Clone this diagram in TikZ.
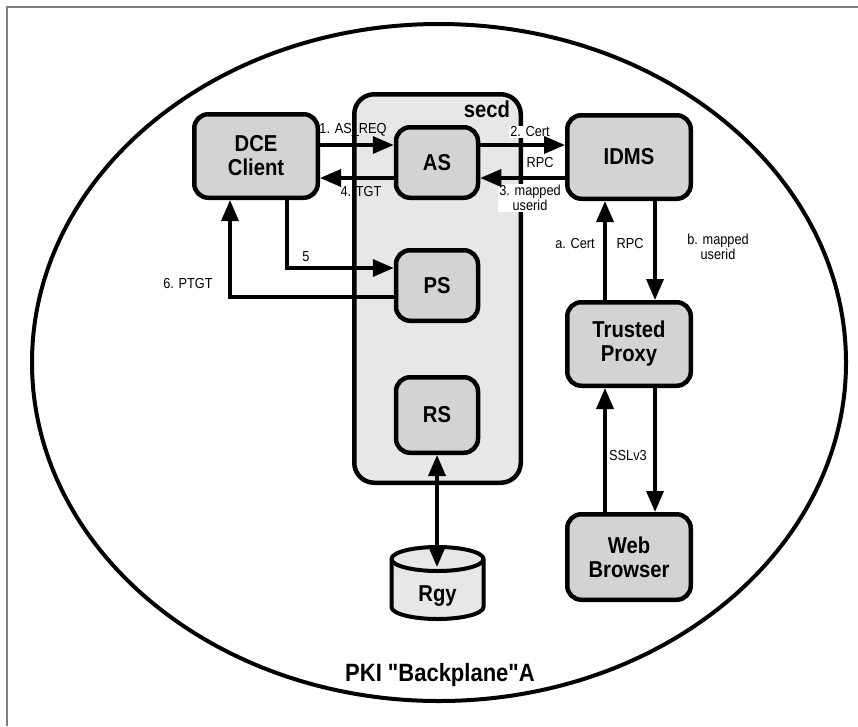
\documentclass[tikz,border=0pt]{standalone}
\usepackage{fontspec}
\setmainfont{Liberation Sans}[Ligatures=TeXOff]
\newfontfamily\condfont{Liberation Sans}[Ligatures=TeXOff, FakeStretch=0.88]
\usetikzlibrary{arrows.meta}
\definecolor{boxgray}{HTML}{D1D3D4}
\definecolor{secdgray}{HTML}{E6E7E8}
\begin{document}
\begin{tikzpicture}[x=1pt,y=-1pt,
  box/.style={draw, line width=4.5pt, fill=boxgray, rounded corners=14pt, align=center,
    font=\condfont\fontsize{23}{24}\selectfont\bfseries, inner sep=0pt, minimum width=123.5pt},
  lbl/.style={font=\condfont\fontsize{14.5}{15}\selectfont, inner sep=1pt, align=center},
  wlbl/.style={lbl, fill=white},
  arr/.style={line width=3.5pt, -{Triangle[length=21pt,width=17pt]}},
  darr/.style={line width=3.5pt, {Triangle[length=21pt,width=17pt]}-{Triangle[length=21pt,width=17pt]}},
  big/.style={font=\condfont\fontsize{23}{24}\selectfont\bfseries, inner sep=0pt}
]
\useasboundingbox (0,0) rectangle (858,726);
% frame
\draw[gray, line width=1.5pt] (7,726) -- (7,7) -- (858,7);
% outer ellipse
\draw[line width=4pt] (439,362.5) ellipse [x radius=407pt, y radius=338.5pt];
\node[font=\condfont\fontsize{25}{26}\selectfont\bfseries, inner sep=0pt] (pki) at (440,675) {PKI "Backplane"A};
% secd
\node[draw, line width=4.5pt, fill=secdgray, rounded corners=20pt, minimum width=166.5pt, minimum height=388.5pt] (secd) at (437.5,288.5) {};
\node[big] (secdlbl) at (487,109) {secd};
% labels with white background
\node[wlbl] (l2) at (530,132) {2. Cert};
\node[wlbl] (l3) at (530,198) {3. mapped\\userid};
% boxes
\node[box, minimum height=83.5pt] (DCE) at (256,156) {DCE\\Client};
\node[box, minimum width=82pt, minimum height=70.5pt] (AS) at (437,162.5) {AS};
\node[box, minimum height=83.5pt] (IDMS) at (629,157) {IDMS};
\node[box, minimum width=82pt, minimum height=70.5pt] (PS) at (437,285.5) {PS};
\node[box, minimum width=82pt, minimum height=75.5pt] (RS) at (437,415) {RS};
\node[box, minimum height=83.5pt] (TP) at (629,344) {Trusted\\Proxy};
\node[box, minimum height=85.5pt] (WB) at (629,557) {Web\\Browser};
% Rgy cylinder
\filldraw[fill=secdgray, line width=4pt] (391.5,559) -- (391.5,607)
  arc[start angle=180,end angle=360,x radius=46pt,y radius=12pt] -- (483.5,559)
  arc[start angle=0,end angle=180,x radius=46pt,y radius=12pt] -- cycle;
\draw[line width=4pt] (391.5,559) arc[start angle=180,end angle=360,x radius=46pt,y radius=12pt];
\node[big] (Rgy) at (437.5,596) {Rgy};
\coordinate (RgyTop) at (437,567);
% arrows
\draw[arr] (DCE.east |- 0,145) -- (AS.west |- 0,145);
\draw[arr] (AS.west |- 0,178) -- (DCE.east |- 0,178);
\draw[arr] (AS.east |- 0,145) -- (IDMS.west |- 0,145);
\draw[arr] (IDMS.west |- 0,178) -- (AS.east |- 0,178);
\draw[arr] (DCE.south -| 287,0) |- (PS.west |- 0,268);
\draw[arr] (PS.west |- 0,297) -| (DCE.south -| 230,0);
\draw[arr] (TP.north -| 605,0) -- (IDMS.south -| 605,0);
\draw[arr] (IDMS.south -| 655,0) -- (TP.north -| 655,0);
\draw[arr] (WB.north -| 605,0) -- (TP.south -| 605,0);
\draw[arr] (TP.south -| 655,0) -- (WB.north -| 655,0);
\draw[darr] (RS.south) -- (RgyTop);
% other labels
\node[lbl] (l1) at (353,130) {1. AS\_REQ};
\node[lbl] (l4) at (361,192) {4. TGT};
\node[lbl] (lrpc) at (540,163) {RPC};
\node[lbl] (l5) at (306,257) {5};
\node[lbl] (l6) at (188,284) {6. PTGT};
\node[lbl] (la) at (575,244) {a. Cert};
\node[lbl] (lrpc2) at (630,244) {RPC};
\node[lbl] (lb) at (718,247) {b. mapped\\userid};
\node[lbl] (lssl) at (628,455) {SSLv3};
\end{tikzpicture}
\end{document}
